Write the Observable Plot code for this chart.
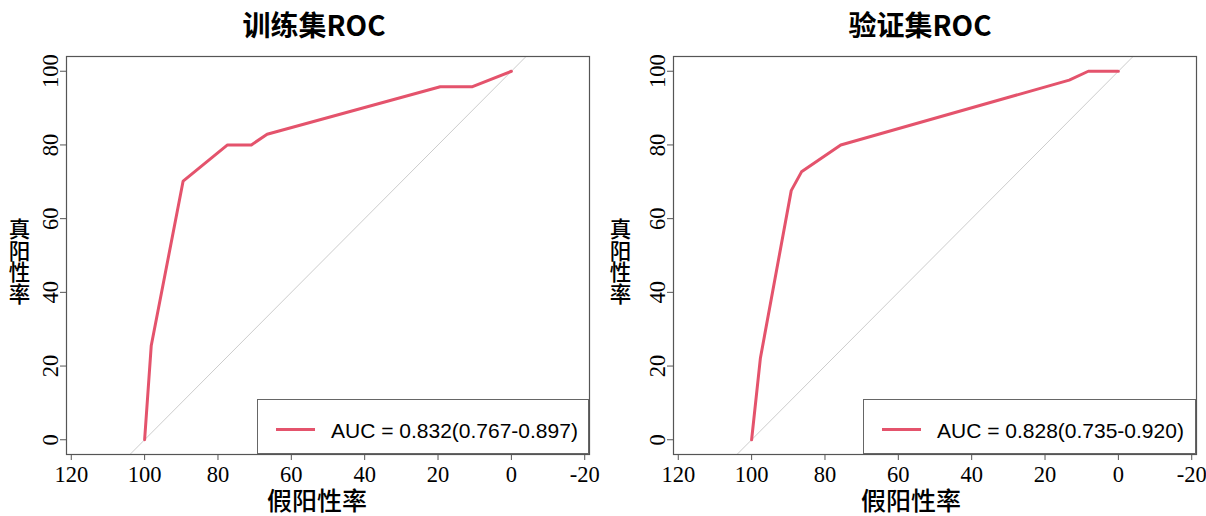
<!DOCTYPE html>
<html><head><meta charset="utf-8">
<script src="https://cdn.jsdelivr.net/npm/d3@7"></script>
<script src="https://cdn.jsdelivr.net/npm/@observablehq/plot@0.6"></script>
<style>
html,body{margin:0;padding:0;background:#fff;}
#root{position:relative;width:1206px;height:516px;overflow:hidden;background:#fff;}
.panel{position:absolute;top:0;width:603px;height:516px;}
.panel svg{display:block;}
.legend{position:absolute;border:1px solid #666;box-sizing:border-box;background:#fff;}
.legend .key{position:absolute;height:3px;background:#E4536C;}
.legend .lab{position:absolute;font-family:"Liberation Sans",Arial,sans-serif;font-size:21px;color:#000;line-height:1;white-space:nowrap;}
</style></head>
<body><div id="root"></div>
<script>
// ---- data ----
const titles = ["训练集ROC", "验证集ROC"];
const trainSpec = [100, 98.2, 89.5, 77.4, 70.9, 66.6, 19.4, 10.6, 0];
const trainSens = [0, 25.5, 70.2, 80.0, 80.0, 82.9, 95.8, 95.8, 100];
const validSpec = [100, 97.6, 89.2, 86.4, 75.7, 13.4, 8.2, 0];
const validSens = [0, 22.2, 67.6, 72.7, 80.0, 97.6, 100, 100];
const aucLabels = ["AUC = 0.832(0.767-0.897)", "AUC = 0.828(0.735-0.920)"];
const xTicks = [120, 100, 80, 60, 40, 20, 0, -20];
const yTicks = [0, 20, 40, 60, 80, 100];
const xLabel = "假阳性率";
const yLabel = "真阳性率";

const RED = "#E4536C";
const xDomain = [121.3, -21.3];
const yDomain = [-4, 104];

const panels = [
  {left: 0, mL: 66, mR: 14, spec: trainSpec, sens: trainSens, title: titles[0], auc: aucLabels[0],
   titleDx: -14, xlabDx: -11, ylabDx: -47,
   legend: {left: 257, top: 399, right: 589, bottom: 454}},
  {left: 603, mL: 70, mR: 10, spec: validSpec, sens: validSens, title: titles[1], auc: aucLabels[1],
   titleDx: -15, xlabDx: -24, ylabDx: -53,
   legend: {left: 863, top: 399, right: 1196, bottom: 454}}
];

const root = document.getElementById("root");
for (const p of panels) {
  const curve = p.spec.map((s, i) => ({spec: s, sens: p.sens[i]}));
  const diag = yDomain.map(y => ({x: 100 - y, y}));
  const chart = Plot.plot({
    width: 603, height: 516,
    marginLeft: p.mL, marginRight: p.mR, marginTop: 56, marginBottom: 62,
    style: {fontFamily: "'Liberation Serif', 'Times New Roman', serif", fontSize: "22px", background: "#fff", overflow: "visible"},
    x: {domain: xDomain, label: null},
    y: {domain: yDomain, label: null},
    marks: [
      Plot.line(diag, {x: "x", y: "y", stroke: "#cccccc", strokeWidth: 1, clip: true}),
      Plot.line(curve, {x: "spec", y: "sens", stroke: RED, strokeWidth: 3, strokeLinejoin: "round"}),
      Plot.frame({stroke: "#555", strokeWidth: 1.2}),
      Plot.axisX({ticks: xTicks, tickSize: 6, tickPadding: 6, tickFormat: d => String(d), fontSize: 22.5, stroke: "#555", fill: "#000", label: null}),
      Plot.axisY({ticks: yTicks, tickSize: 6, tickRotate: -90, tickFormat: d => String(d), fontSize: 22.5, stroke: "#555", fill: "#000", label: null}),
      Plot.text([p.title], {frameAnchor: "top", dy: -29, dx: p.titleDx, lineAnchor: "middle", fontSize: 28, fontWeight: "bold", fontFamily: "'Noto Sans CJK SC', sans-serif", fill: "#000"}),
      Plot.text([xLabel], {frameAnchor: "bottom", dy: 47, dx: p.xlabDx, lineAnchor: "middle", fontSize: 25, fontWeight: 500, fontFamily: "'Noto Sans CJK SC', sans-serif", fill: "#000"}),
      Plot.text([yLabel], {frameAnchor: "left", dx: p.ylabDx, dy: -1, textAnchor: "middle", fontSize: 21.5, fontWeight: 500, fontFamily: "'Noto Sans CJK SC', sans-serif", fill: "#000"})
    ]
  });
  // stack the y-axis title characters upright, one under another
  d3.select(chart).selectAll("text")
    .filter(function() { return this.textContent === yLabel; })
    .attr("dy", null)
    .style("writing-mode", "vertical-rl")
    .style("text-orientation", "upright");

  const div = document.createElement("div");
  div.className = "panel";
  div.style.left = p.left + "px";
  div.appendChild(chart);
  root.appendChild(div);

  // legend box (bottom-right of the plot frame)
  const L = p.legend;
  const lg = document.createElement("div");
  lg.className = "legend";
  lg.style.left = L.left + "px"; lg.style.top = L.top + "px";
  lg.style.width = (L.right - L.left) + "px"; lg.style.height = (L.bottom - L.top) + "px";
  const key = document.createElement("div");
  key.className = "key";
  key.style.left = "18px"; key.style.width = "39px"; key.style.top = "28px";
  const lab = document.createElement("div");
  lab.className = "lab";
  lab.style.left = "73px"; lab.style.top = "20px";
  lab.textContent = p.auc;
  lg.appendChild(key); lg.appendChild(lab);
  root.appendChild(lg);
}
</script>
</body></html>
